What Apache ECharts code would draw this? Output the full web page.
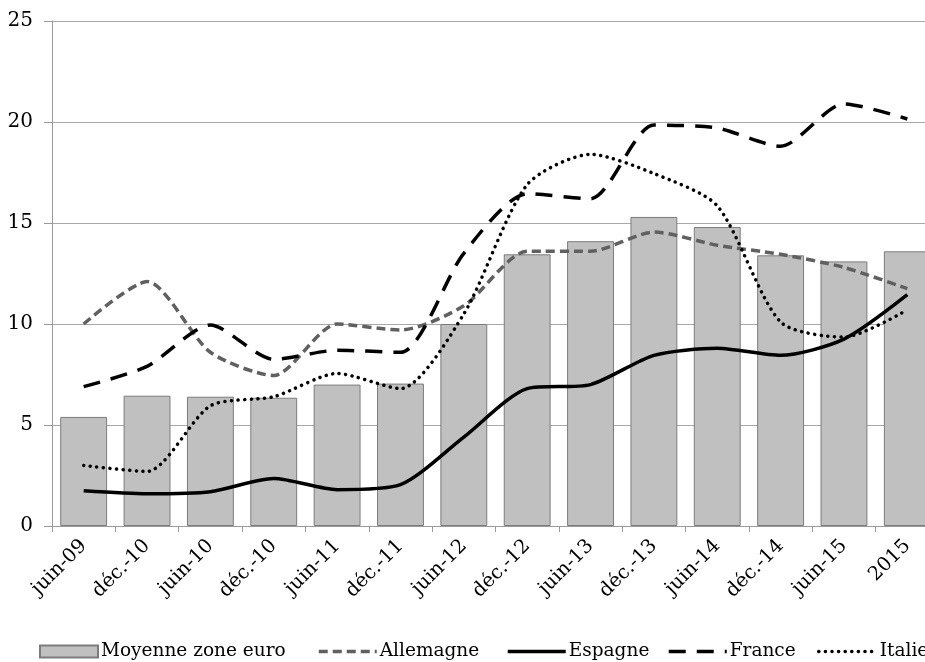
<!DOCTYPE html>
<html>
<head>
<meta charset="utf-8">
<script src="https://cdn.jsdelivr.net/npm/echarts@6/dist/echarts.min.js"></script>
<style>
  html, body { margin: 0; padding: 0; background: #fff; overflow: hidden; }
  #chart { width: 925px; height: 662px; }
</style>
</head>
<body>
<div id="chart"></div>
<script>
// Periods on the horizontal axis
var categories = ['juin-09', 'déc.-10', 'juin-10', 'déc.-10', 'juin-11', 'déc.-11', 'juin-12',
                  'déc.-12', 'juin-13', 'déc.-13', 'juin-14', 'déc.-14', 'juin-15', '2015'];

// Euro-area average (bars)
var moyenne   = [5.4, 6.45, 6.4, 6.35, 7.0, 7.05, 10.0, 13.45, 14.1, 15.3, 14.8, 13.4, 13.1, 13.6];
// Country series (lines)
var allemagne = [10.0, 12.1, 8.6, 7.45, 10.0, 9.7, 10.9, 13.6, 13.6, 14.55, 13.9, 13.45, 12.8, 11.75];
var espagne   = [1.75, 1.6, 1.7, 2.35, 1.8, 2.05, 4.4, 6.8, 7.0, 8.45, 8.8, 8.45, 9.25, 11.45];
var france    = [6.9, 7.9, 9.95, 8.25, 8.7, 8.6, 13.5, 16.45, 16.2, 19.85, 19.7, 18.8, 20.9, 20.15];
var italie    = [3.0, 2.7, 5.95, 6.4, 7.55, 6.8, 10.5, 16.9, 18.4, 17.45, 15.85, 10.1, 9.35, 10.7];

var FONT = 'DejaVu Serif';

var lineStyles = {
  'Allemagne': { color: '#606060', width: 3.5, type: [9, 5] },
  'Espagne':   { color: '#000', width: 3.5, type: 'solid' },
  'France':    { color: '#000', width: 3.5, type: [17, 11] },
  'Italie':    { color: '#000', width: 3.5, type: [0.1, 6.5], cap: 'round' }
};

function legendAt(name, left, isLine) {
  var lg = {
    data: [isLine ? name : { name: name, icon: 'rect' }],
    left: left,
    top: 637,
    itemWidth: 58,
    itemHeight: 12,
    itemGap: 0,
    textStyle: { fontFamily: FONT, fontSize: 18.5, color: '#000', padding: [0, 0, 0, -2] }
  };
  if (isLine) {
    // show only the stroke pattern, no marker
    lg.itemStyle = { color: 'rgba(0,0,0,0)', borderWidth: 0 };
    lg.lineStyle = Object.assign({}, lineStyles[name]);
  }
  return lg;
}

var chart = echarts.init(document.getElementById('chart'), null, { renderer: 'canvas' });

chart.setOption({
  animation: false,
  backgroundColor: '#fff',
  grid: { left: 52, top: 21, width: 887, height: 505, containLabel: false, outerBoundsMode: 'none' },
  legend: [
    legendAt('Moyenne zone euro', 34, false),
    legendAt('Allemagne', 312, true),
    legendAt('Espagne', 501, true),
    legendAt('France', 662, true),
    legendAt('Italie', 812, true)
  ],
  xAxis: {
    type: 'category',
    data: categories,
    boundaryGap: true,
    axisLine: { lineStyle: { color: '#9a9a9a', width: 1 } },
    axisTick: { show: true, length: 6, lineStyle: { color: '#9a9a9a' } },
    axisLabel: {
      rotate: 45,
      margin: 17,
      fontFamily: FONT,
      fontSize: 19.5,
      color: '#000',
      interval: 0
    }
  },
  yAxis: {
    type: 'value',
    min: 0,
    max: 25,
    interval: 5,
    axisLine: { show: true, lineStyle: { color: '#9a9a9a', width: 1 } },
    axisTick: { show: true, length: 8, lineStyle: { color: '#9a9a9a' } },
    splitLine: { lineStyle: { color: '#a8a8a8', width: 1 } },
    axisLabel: { fontFamily: FONT, fontSize: 20, color: '#000', margin: 19 }
  },
  series: [
    {
      name: 'Moyenne zone euro',
      type: 'bar',
      data: moyenne,
      barCategoryGap: '26%',
      itemStyle: { color: '#c0c0c0', borderColor: '#7c7c7c', borderWidth: 1 }
    },
    {
      name: 'Allemagne',
      type: 'line',
      data: allemagne,
      smooth: 0.25,
      symbol: 'none',
      lineStyle: lineStyles['Allemagne'],
      itemStyle: { color: '#606060' }
    },
    {
      name: 'Espagne',
      type: 'line',
      data: espagne,
      smooth: 0.25,
      symbol: 'none',
      lineStyle: lineStyles['Espagne'],
      itemStyle: { color: '#000' }
    },
    {
      name: 'France',
      type: 'line',
      data: france,
      smooth: 0.25,
      symbol: 'none',
      lineStyle: lineStyles['France'],
      itemStyle: { color: '#000' }
    },
    {
      name: 'Italie',
      type: 'line',
      data: italie,
      smooth: 0.25,
      symbol: 'none',
      lineStyle: lineStyles['Italie'],
      itemStyle: { color: '#000' }
    }
  ]
});
</script>
</body>
</html>
